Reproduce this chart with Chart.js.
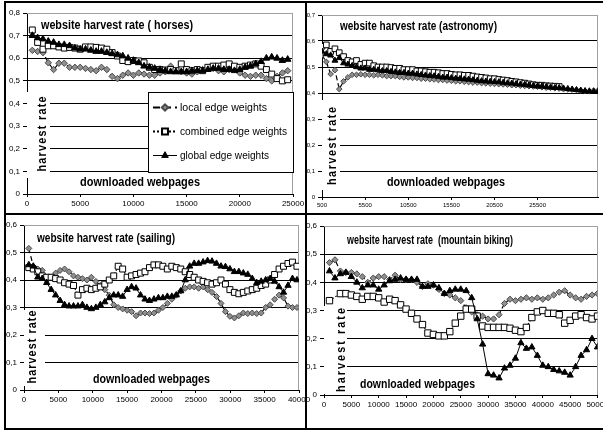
<!DOCTYPE html>
<html>
<head>
<meta charset="utf-8">
<script src="https://cdn.jsdelivr.net/npm/chart.js@4.4.0/dist/chart.umd.min.js"></script>
<style>
body { margin:0; background:#fff; width:603px; height:430px; position:relative; overflow:hidden; }
canvas { position:absolute; left:0; top:0; }
.ln { position:absolute; background:#000; }
</style>
</head>
<body>
<div class="ln" style="left:4px;top:1px;width:599px;height:2px"></div>
<div class="ln" style="left:4px;top:1px;width:2px;height:429px"></div>
<div class="ln" style="left:305px;top:1px;width:2px;height:429px"></div>
<div class="ln" style="left:4px;top:213px;width:599px;height:2px"></div>
<div class="ln" style="left:4px;top:428px;width:599px;height:2px"></div>
<canvas id="horses" width="603" height="430"></canvas>
<canvas id="astronomy" width="603" height="430"></canvas>
<canvas id="sailing" width="603" height="430"></canvas>
<canvas id="biking" width="603" height="430"></canvas>
<script>
/// datos ///

// horses
const horsesX = [500,1000,1500,2000,2500,3000,3500,4000,4500,5000,5500,6000,6500,7000,7500,8000,8500,9000,9500,10000,
  10500,11000,11500,12000,12500,13000,13500,14000,14500,15000,15500,16000,16500,17000,17500,18000,18500,19000,19500,20000,
  20500,21000,21500,22000,22500,23000,23500,24000,24500];
const horsesLocal = [0.635,0.63,0.625,0.58,0.55,0.578,0.578,0.56,0.56,0.56,
  0.555,0.55,0.545,0.56,0.55,0.52,0.51,0.525,0.535,0.525,
  0.535,0.53,0.525,0.525,0.535,0.54,0.565,0.545,0.54,0.535,
  0.53,0.54,0.55,0.555,0.555,0.545,0.54,0.55,0.555,0.535,
  0.525,0.52,0.525,0.525,0.51,0.50,0.52,0.535,0.545];
const horsesCombined = [0.725,0.67,0.64,0.655,0.655,0.65,0.645,0.648,0.645,0.64,
  0.65,0.65,0.648,0.645,0.64,0.625,0.61,0.59,0.585,0.59,
  0.588,0.58,0.56,0.55,0.55,0.548,0.55,0.545,0.575,0.55,
  0.545,0.55,0.545,0.56,0.565,0.565,0.57,0.575,0.565,0.56,
  0.565,0.57,0.575,0.565,0.55,0.53,0.51,0.50,0.505];
const horsesGlobal = [0.70,0.69,0.685,0.675,0.67,0.66,0.66,0.655,0.645,0.64,
  0.64,0.635,0.63,0.63,0.625,0.62,0.615,0.61,0.60,0.59,
  0.58,0.565,0.56,0.555,0.55,0.545,0.54,0.54,0.54,0.54,
  0.545,0.545,0.545,0.55,0.555,0.555,0.55,0.55,0.545,0.55,
  0.56,0.565,0.575,0.585,0.60,0.605,0.60,0.59,0.595];
const horsesTicksX = [0,5000,10000,15000,20000,25000];

// astronomy
const astroX = [500,1000,1500,2000,2500,3000,3500,4000,4500,5000,5500,6000,6500,7000,7500,8000,8500,9000,9500,10000,
  10500,11000,11500,12000,12500,13000,13500,14000,14500,15000,15500,16000,16500,17000,17500,18000,18500,19000,19500,20000,
  20500,21000,21500,22000,22500,23000,23500,24000,24500,25000,25500,26000,26500,27000,27500,28000,28500,29000,29500,30000,
  30500,31000,31500,32000,32500];
const astroLocal = [0.545,0.52,0.473,0.488,0.415,0.445,0.46,0.47,0.47,0.472,
  0.47,0.47,0.468,0.47,0.468,0.465,0.465,0.465,0.462,0.46,
  0.46,0.458,0.458,0.455,0.455,0.453,0.452,0.45,0.45,0.448,
  0.447,0.445,0.445,0.443,0.442,0.44,0.44,0.438,0.437,0.436,
  0.435,0.434,0.433,0.432,0.43,0.43,0.428,0.427,0.426,0.425,
  0.424,0.422,0.42,0.42,0.418,0.417,0.415,0.414,0.413,0.412,
  0.41,0.408,0.407,0.41,0.41];
const astroCombined = [0.58,0.585,0.56,0.57,0.555,0.54,0.525,0.52,0.525,0.51,
  0.515,0.515,0.505,0.50,0.50,0.50,0.498,0.495,0.495,0.49,
  0.49,0.49,0.485,0.485,0.482,0.48,0.48,0.478,0.475,0.475,
  0.472,0.47,0.47,0.468,0.468,0.465,0.462,0.46,0.458,0.455,
  0.455,0.452,0.45,0.448,0.445,0.443,0.44,0.438,0.435,0.432,
  0.43,0.43,0.428,0.427,0.426,0.425];
const astroGlobal = [0.56,0.55,0.545,0.525,0.535,0.515,0.51,0.505,0.50,0.495,
  0.495,0.49,0.49,0.488,0.485,0.485,0.482,0.48,0.478,0.478,
  0.475,0.475,0.472,0.47,0.468,0.466,0.465,0.463,0.46,0.46,
  0.458,0.456,0.455,0.453,0.452,0.45,0.448,0.446,0.445,0.444,
  0.443,0.442,0.44,0.438,0.437,0.435,0.433,0.432,0.43,0.428,
  0.427,0.426,0.424,0.422,0.42,0.42,0.418,0.416,0.414,0.412,
  0.41,0.408,0.407,0.405,0.405];
const astroTicksX = [500,5500,10500,15500,20500,25500];

// sailing
const sailX = [700,1350,2000,2650,3300,3950,4600,5250,5900,6550,7200,7850,8500,9150,9800,10450,11100,11750,12400,13050,
  13700,14350,15000,15650,16300,16950,17600,18250,18900,19550,20200,20850,21500,22150,22800,23450,24100,24750,25400,26050,
  26700,27350,28000,28650,29300,29950,30600,31250,31900,32550,33200,33850,34500,35150,35800,36450,37100,37750,38400,39050,
  39700];
const sailLocal = [0.515,0.45,0.44,0.435,0.40,0.41,0.425,0.435,0.44,0.43,
  0.415,0.41,0.405,0.40,0.41,0.395,0.38,0.365,0.345,0.31,
  0.30,0.295,0.29,0.285,0.27,0.28,0.28,0.278,0.28,0.29,
  0.30,0.315,0.33,0.345,0.36,0.37,0.375,0.375,0.37,0.375,
  0.365,0.355,0.34,0.315,0.285,0.268,0.262,0.27,0.28,0.278,
  0.28,0.278,0.28,0.30,0.31,0.33,0.345,0.335,0.305,0.30,
  0.30];
const sailCombined = [0.445,0.44,0.43,0.415,0.41,0.41,0.405,0.40,0.39,0.385,
  0.38,0.345,0.365,0.37,0.365,0.37,0.375,0.385,0.40,0.415,
  0.45,0.44,0.41,0.415,0.42,0.425,0.43,0.445,0.455,0.455,
  0.45,0.44,0.45,0.445,0.44,0.43,0.42,0.41,0.40,0.395,
  0.39,0.385,0.39,0.40,0.385,0.365,0.355,0.35,0.355,0.36,
  0.365,0.37,0.38,0.385,0.40,0.42,0.44,0.45,0.46,0.465,
  0.45];
const sailGlobal = [0.455,0.45,0.41,0.405,0.39,0.365,0.345,0.325,0.31,0.305,
  0.305,0.305,0.31,0.30,0.295,0.30,0.31,0.32,0.335,0.345,
  0.345,0.34,0.365,0.375,0.37,0.345,0.33,0.325,0.33,0.335,
  0.335,0.34,0.34,0.345,0.36,0.40,0.45,0.46,0.46,0.465,
  0.47,0.468,0.46,0.45,0.448,0.44,0.43,0.43,0.425,0.42,
  0.405,0.39,0.395,0.40,0.405,0.395,0.375,0.355,0.38,0.405,
  0.40];
const sailTicksX = [0,5000,10000,15000,20000,25000,30000,35000,40000];

// mountain biking
const bikeX = [1000,2000,3000,4000,5000,6000,7000,8000,9000,10000,11000,12000,13000,14000,15000,16000,17000,18000,19000,20000,
  21000,22000,23000,24000,25000,26000,27000,28000,29000,30000,31000,32000,33000,34000,35000,36000,37000,38000,39000,40000,
  41000,42000,43000,44000,45000,46000,47000,48000,49000,50000];
const bikeLocal = [0.47,0.48,0.44,0.435,0.435,0.43,0.42,0.40,0.415,0.42,
  0.42,0.41,0.425,0.41,0.41,0.41,0.40,0.385,0.395,0.39,
  0.375,0.36,0.355,0.345,0.335,0.31,0.295,0.285,0.28,0.27,
  0.27,0.285,0.325,0.34,0.335,0.34,0.345,0.34,0.345,0.34,
  0.345,0.355,0.365,0.37,0.355,0.345,0.34,0.35,0.355,0.36];
const bikeCombined = [0.335,null,0.36,0.36,0.355,0.35,0.34,0.35,0.35,0.345,
  0.33,0.34,0.335,0.32,0.305,0.29,0.27,0.25,0.22,0.215,
  0.21,0.21,0.225,0.255,0.28,0.305,0.305,0.28,0.245,0.24,
  0.24,0.24,0.24,0.237,0.23,0.225,0.24,0.275,0.295,0.30,
  0.29,0.29,0.285,0.255,0.265,0.28,0.285,0.275,0.27,0.28];
const bikeGlobal = [0.44,0.415,0.43,0.435,0.42,0.40,0.38,0.39,0.39,0.375,
  0.39,0.405,0.41,0.415,0.41,0.41,0.41,0.385,0.385,0.39,
  0.38,0.36,0.37,0.375,0.375,0.37,0.345,0.27,0.18,0.075,
  0.07,0.06,0.095,0.105,0.13,0.185,0.165,0.17,0.14,0.105,
  0.10,0.09,0.085,0.08,0.07,0.10,0.14,0.16,0.20,0.17];
const bikeTicksX = [0,5000,10000,15000,20000,25000,30000,35000,40000,45000,50000];

const serieNames = ["local edge weights", "combined edge weights", "global edge weights"];

//////////////

const FONT = "'Liberation Sans', Arial, sans-serif";
Chart.defaults.font.family = FONT;
Chart.defaults.color = "#000";

function puntos(xs, ys) {
  return ys.map((v, i) => ({ x: xs[i], y: v }));
}

function coma(v) {
  v = Math.round(v * 10) / 10;
  return v === 0 ? "0" : v.toFixed(1).replace(".", ",");
}

// texto angosto: se escala en x hasta el ancho pedido
function textoAncho(ctx, t, x, y, ancho) {
  const w = ctx.measureText(t).width;
  ctx.save();
  ctx.translate(x, y);
  ctx.scale(ancho / w, 1);
  ctx.fillText(t, 0, 0);
  ctx.restore();
}

// cajas blancas, titulos y leyenda dibujados dentro del area
const panelPlugin = {
  id: "panel",
  beforeDatasetsDraw(chart, args, o) {
    const ctx = chart.ctx, a = chart.chartArea;
    ctx.save();
    ctx.fillStyle = "#fff";
    (o.boxes || []).forEach(b => ctx.fillRect(b[0], b[1], b[2] - b[0], b[3] - b[1]));

    // borde gris del area
    ctx.strokeStyle = "#a0a0a0";
    ctx.lineWidth = 1;
    ctx.beginPath();
    ctx.moveTo(a.left, Math.round(a.top) + 0.5);
    ctx.lineTo(Math.round(a.right) - 0.5, Math.round(a.top) + 0.5);
    ctx.lineTo(Math.round(a.right) - 0.5, a.bottom);
    ctx.stroke();

    ctx.fillStyle = "#000";
    ctx.textBaseline = "middle";
    ctx.textAlign = "left";
    ctx.font = "bold " + o.titleSize + "px " + FONT;
    textoAncho(ctx, o.title, o.titleX, o.titleY, o.titleW);

    ctx.font = "bold " + o.xlabSize + "px " + FONT;
    textoAncho(ctx, "downloaded webpages", o.xlabX, o.xlabY, o.xlabW);

    // harvest rate vertical con espaciado
    ctx.save();
    ctx.translate(o.ylabX, o.ylabY);
    ctx.rotate(-Math.PI / 2);
    ctx.textAlign = "left";
    ctx.font = "bold " + o.ylabSize + "px " + FONT;
    const chars = [..."harvest rate"];
    const ws = chars.map(c => ctx.measureText(c).width * 0.9);
    const nat = ws.reduce((s, w) => s + w, 0);
    const sp = (o.ylabSpan - nat) / (chars.length - 1);
    let x = -o.ylabSpan / 2;
    chars.forEach((c, i) => {
      ctx.save();
      ctx.translate(x, 0);
      ctx.scale(0.9, 1);
      ctx.fillText(c, 0, 0);
      ctx.restore();
      x += ws[i] + sp;
    });
    ctx.restore();

    if (o.legend) {
      const L = o.legend;
      ctx.fillStyle = "#fff";
      ctx.fillRect(L.x0, L.y0, L.x1 - L.x0, L.y1 - L.y0);
      ctx.strokeStyle = "#000";
      ctx.lineWidth = 1;
      ctx.strokeRect(L.x0 + 0.5, L.y0 + 0.5, L.x1 - L.x0 - 1, L.y1 - L.y0 - 1);
      const ds = chart.data.datasets;
      L.rows.forEach((ry, i) => {
        const d = ds[i];
        ctx.save();
        ctx.strokeStyle = "#000";
        ctx.lineWidth = i === 2 ? 1 : 2;
        ctx.setLineDash(i === 0 ? [7, 4] : i === 1 ? [2, 2] : []);
        ctx.beginPath();
        ctx.moveTo(L.lx0, ry + 0.5);
        ctx.lineTo(L.lx1, ry + 0.5);
        ctx.stroke();
        ctx.setLineDash([]);
        ctx.fillStyle = d.pointBackgroundColor;
        ctx.strokeStyle = d.pointBorderColor;
        Chart.helpers.drawPoint(ctx, { pointStyle: d.pointStyle, radius: d.pointRadius, rotation: 0, borderWidth: 1 },
          (L.lx0 + L.lx1) / 2, ry + 0.5);
        ctx.restore();
        ctx.fillStyle = "#000";
        ctx.textAlign = "left";
        ctx.font = L.size + "px " + FONT;
        textoAncho(ctx, serieNames[i], L.tx, ry + 1, L.widths[i]);
      });
    }
    ctx.restore();
  }
};

function makeChart(id, p) {
  const area = p.area;
  const datasets = [
    { label: serieNames[0], data: puntos(p.xs, p.local), order: 3,
      borderColor: "#000", borderWidth: 1.2, borderDash: [5, 3],
      pointStyle: "rectRot", pointRadius: p.r[0], pointBackgroundColor: "#8f8f8f", pointBorderColor: "#4a4a4a", pointBorderWidth: 1 },
    { label: serieNames[1], data: puntos(p.xs, p.combined), order: 2,
      borderColor: "#000", borderWidth: 1.2, borderDash: [1.5, 2],
      pointStyle: "rect", pointRadius: p.r[1], pointBackgroundColor: "#fff", pointBorderColor: "#000", pointBorderWidth: 1 },
    { label: serieNames[2], data: puntos(p.xs, p.global), order: 1,
      borderColor: "#000", borderWidth: 1,
      pointStyle: "triangle", pointRadius: p.r[2], pointBackgroundColor: "#000", pointBorderColor: "#000", pointBorderWidth: 1 }
  ];
  return new Chart(document.getElementById(id), {
    type: "line",
    data: { datasets: datasets },
    plugins: [panelPlugin],
    options: {
      responsive: false,
      animation: false,
      events: [],
      devicePixelRatio: 1,
      spanGaps: true,
      layout: { padding: { left: area[0] - p.yw, top: area[1], right: 603 - area[2], bottom: 430 - area[3] - p.xh } },
      plugins: { legend: { display: false }, tooltip: { enabled: false }, panel: p.deco },
      scales: {
        x: {
          type: "linear", min: p.xmin, max: p.xmax,
          afterBuildTicks: s => { s.ticks = p.ticksX.map(v => ({ value: v })); },
          afterFit: s => { s.height = p.xh; s.paddingLeft = 0; s.paddingRight = 0; },
          border: { display: true, color: "#000", width: 1 },
          grid: { drawOnChartArea: false, drawTicks: true, tickLength: 3, color: "#000" },
          ticks: { font: { size: p.fs }, padding: 2, maxRotation: 0, autoSkip: false, callback: v => String(v) }
        },
        y: {
          min: 0, max: p.ymax,
          afterFit: s => { s.width = p.yw; s.paddingTop = 0; s.paddingBottom = 0; },
          border: { display: true, color: "#000", width: 1 },
          grid: {
            drawTicks: true, tickLength: 4, tickColor: "#000",
            color: c => (Math.abs(c.tick.value - p.ymax) < 1e-6 ? "#a0a0a0" : "#000")
          },
          ticks: { stepSize: 0.1, font: { size: p.fs }, padding: 3, callback: v => coma(v) }
        }
      }
    }
  });
}

makeChart("horses", {
  xs: horsesX, local: horsesLocal, combined: horsesCombined, global: horsesGlobal, ticksX: horsesTicksX,
  xmin: 0, xmax: 25000, ymax: 0.8, area: [27, 13, 293, 194], yw: 22, xh: 18, fs: 8, r: [3.2, 4.2, 3.8],
  deco: {
    boxes: [[27, 92, 50, 178]],
    title: "website harvest rate ( horses)", titleX: 41, titleY: 26, titleSize: 12, titleW: 152,
    xlabX: 80, xlabY: 183, xlabSize: 12, xlabW: 120,
    ylabX: 43, ylabY: 134, ylabSpan: 75, ylabSize: 12,
    legend: { x0: 148, y0: 92, x1: 294, y1: 173, rows: [107, 131, 155], lx0: 153, lx1: 177, tx: 180, size: 11,
      widths: [87, 107, 89] }
  }
});

makeChart("astronomy", {
  xs: astroX, local: astroLocal, combined: astroCombined, global: astroGlobal, ticksX: astroTicksX,
  xmin: 500, xmax: 32500, ymax: 0.7, area: [322, 15, 602, 197], yw: 15, xh: 14, fs: 6, r: [2.8, 4, 3.4],
  deco: {
    boxes: [[322, 100, 340, 190]],
    title: "website harvest rate (astronomy)", titleX: 340, titleY: 27, titleSize: 12, titleW: 157,
    xlabX: 387, xlabY: 183, xlabSize: 12, xlabW: 118,
    ylabX: 333, ylabY: 146, ylabSpan: 78, ylabSize: 12
  }
});

makeChart("sailing", {
  xs: sailX, local: sailLocal, combined: sailCombined, global: sailGlobal, ticksX: sailTicksX,
  xmin: 0, xmax: 40000, ymax: 0.6, area: [24, 225, 299, 390], yw: 20, xh: 18, fs: 8, r: [3, 4.2, 3.6],
  deco: {
    boxes: [[24, 310, 45, 386]],
    title: "website harvest rate (sailing)", titleX: 37, titleY: 239, titleSize: 12, titleW: 138,
    xlabX: 93, xlabY: 380, xlabSize: 12, xlabW: 117,
    ylabX: 33, ylabY: 347, ylabSpan: 73, ylabSize: 12
  }
});

makeChart("biking", {
  xs: bikeX, local: bikeLocal, combined: bikeCombined, global: bikeGlobal, ticksX: bikeTicksX,
  xmin: 0, xmax: 50000, ymax: 0.6, area: [324, 226, 598, 395], yw: 17, xh: 18, fs: 8, r: [3.1, 4.5, 3.6],
  deco: {
    boxes: [[324, 306, 347, 394]],
    title: "website harvest rate  (mountain biking)", titleX: 347, titleY: 241, titleSize: 12, titleW: 166,
    xlabX: 360, xlabY: 385, xlabSize: 12, xlabW: 115,
    ylabX: 342, ylabY: 350, ylabSpan: 84, ylabSize: 12
  }
});
</script>
</body>
</html>
